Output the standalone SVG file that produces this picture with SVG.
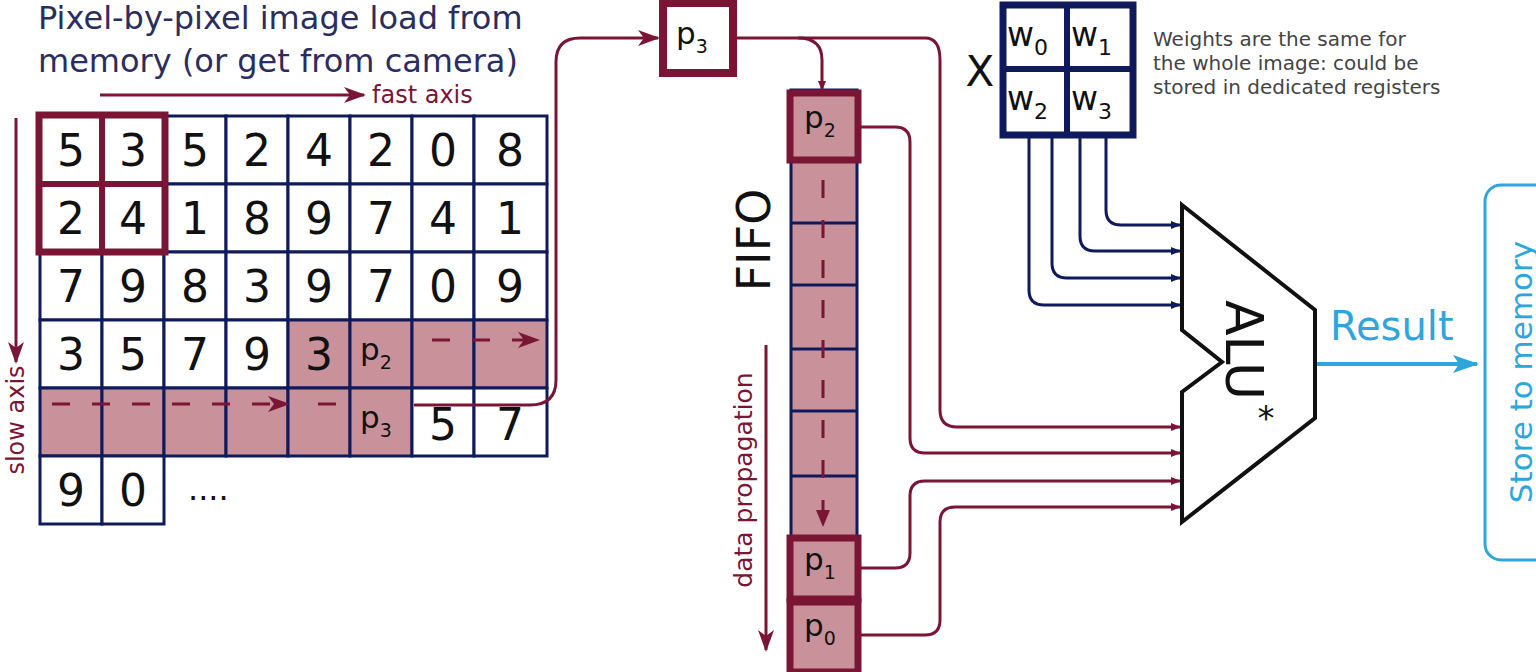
<svg xmlns="http://www.w3.org/2000/svg" width="1536" height="672" viewBox="0 0 1536 672">
<style>
.c{fill:#fff;stroke:#0f1a5c;stroke-width:3}
.pk{fill:#c99199;stroke:#0f1a5c;stroke-width:3}
.n{font-family:"DejaVu Sans",sans-serif;font-size:44px;fill:#111;text-anchor:middle}
.p{font-family:"DejaVu Sans",sans-serif;font-size:31px;fill:#111;text-anchor:middle}
.r{fill:none;stroke:#7a1535;stroke-width:3}
.b{fill:none;stroke:#0f1a5c;stroke-width:3}
.d{fill:none;stroke:#7a1535;stroke-width:3;stroke-dasharray:18 22}
.box{fill:#c99199;stroke:#7a1535;stroke-width:7}
</style>
<defs>
<marker id="ar" markerWidth="10" markerHeight="8" refX="9" refY="4" orient="auto" markerUnits="userSpaceOnUse"><path d="M0,0L10,4L0,8z" fill="#7a1535"/></marker>
<marker id="arb" markerWidth="10" markerHeight="8" refX="9" refY="4" orient="auto" markerUnits="userSpaceOnUse"><path d="M0,0L10,4L0,8z" fill="#0f1a5c"/></marker>
<marker id="arL" markerWidth="22" markerHeight="16" refX="20" refY="8" orient="auto" markerUnits="userSpaceOnUse"><path d="M0,0L22,8L0,16L6,8z" fill="#7a1535"/></marker>
<marker id="arC" markerWidth="26" markerHeight="18" refX="24" refY="9" orient="auto" markerUnits="userSpaceOnUse"><path d="M0,0L26,9L0,18L6,9z" fill="#2ea6dc"/></marker>
</defs>
<rect width="1536" height="672" fill="#fff"/>
<g id="title" font-family="DejaVu Sans,sans-serif" font-size="32" fill="#2a2d5e">
<text x="38" y="29">Pixel-by-pixel image load from</text>
<text x="38" y="72">memory (or get from camera)</text>
</g>
<g id="axes">
<line x1="100" y1="95" x2="364" y2="95" stroke="#7a1535" stroke-width="3" marker-end="url(#arL)"/>
<text x="372" y="103" font-family="DejaVu Sans,sans-serif" font-size="24" fill="#7a1535">fast axis</text>
<line x1="16" y1="118" x2="16" y2="362" stroke="#7a1535" stroke-width="3" marker-end="url(#arL)"/>
<text transform="translate(24,420) rotate(-90)" text-anchor="middle" font-family="DejaVu Sans,sans-serif" font-size="24" fill="#7a1535">slow axis</text>
</g>
<g id="grid">
<rect class="c" x="40" y="116" width="62" height="68"/><text class="n" x="71" y="166">5</text>
<rect class="c" x="102" y="116" width="62" height="68"/><text class="n" x="133" y="166">3</text>
<rect class="c" x="164" y="116" width="62" height="68"/><text class="n" x="195" y="166">5</text>
<rect class="c" x="226" y="116" width="62" height="68"/><text class="n" x="257" y="166">2</text>
<rect class="c" x="288" y="116" width="62" height="68"/><text class="n" x="319" y="166">4</text>
<rect class="c" x="350" y="116" width="62" height="68"/><text class="n" x="381" y="166">2</text>
<rect class="c" x="412" y="116" width="62" height="68"/><text class="n" x="443" y="166">0</text>
<rect class="c" x="474" y="116" width="73" height="68"/><text class="n" x="510" y="166">8</text>
<rect class="c" x="40" y="184" width="62" height="68"/><text class="n" x="71" y="234">2</text>
<rect class="c" x="102" y="184" width="62" height="68"/><text class="n" x="133" y="234">4</text>
<rect class="c" x="164" y="184" width="62" height="68"/><text class="n" x="195" y="234">1</text>
<rect class="c" x="226" y="184" width="62" height="68"/><text class="n" x="257" y="234">8</text>
<rect class="c" x="288" y="184" width="62" height="68"/><text class="n" x="319" y="234">9</text>
<rect class="c" x="350" y="184" width="62" height="68"/><text class="n" x="381" y="234">7</text>
<rect class="c" x="412" y="184" width="62" height="68"/><text class="n" x="443" y="234">4</text>
<rect class="c" x="474" y="184" width="73" height="68"/><text class="n" x="510" y="234">1</text>
<rect class="c" x="40" y="252" width="62" height="68"/><text class="n" x="71" y="302">7</text>
<rect class="c" x="102" y="252" width="62" height="68"/><text class="n" x="133" y="302">9</text>
<rect class="c" x="164" y="252" width="62" height="68"/><text class="n" x="195" y="302">8</text>
<rect class="c" x="226" y="252" width="62" height="68"/><text class="n" x="257" y="302">3</text>
<rect class="c" x="288" y="252" width="62" height="68"/><text class="n" x="319" y="302">9</text>
<rect class="c" x="350" y="252" width="62" height="68"/><text class="n" x="381" y="302">7</text>
<rect class="c" x="412" y="252" width="62" height="68"/><text class="n" x="443" y="302">0</text>
<rect class="c" x="474" y="252" width="73" height="68"/><text class="n" x="510" y="302">9</text>
<rect class="c" x="40" y="320" width="62" height="68"/><text class="n" x="71" y="370">3</text>
<rect class="c" x="102" y="320" width="62" height="68"/><text class="n" x="133" y="370">5</text>
<rect class="c" x="164" y="320" width="62" height="68"/><text class="n" x="195" y="370">7</text>
<rect class="c" x="226" y="320" width="62" height="68"/><text class="n" x="257" y="370">9</text>
<rect class="pk" x="288" y="320" width="62" height="68"/><text class="n" x="319" y="370">3</text>
<rect class="pk" x="350" y="320" width="62" height="68"/><text class="p" x="376" y="360">p<tspan font-size="19" dy="9">2</tspan></text>
<rect class="pk" x="412" y="320" width="62" height="68"/>
<rect class="pk" x="474" y="320" width="73" height="68"/>
<rect class="pk" x="40" y="388" width="62" height="68"/>
<rect class="pk" x="102" y="388" width="62" height="68"/>
<rect class="pk" x="164" y="388" width="62" height="68"/>
<rect class="pk" x="226" y="388" width="62" height="68"/>
<rect class="pk" x="288" y="388" width="62" height="68"/>
<rect class="pk" x="350" y="388" width="62" height="68"/><text class="p" x="376" y="428">p<tspan font-size="19" dy="9">3</tspan></text>
<rect class="c" x="412" y="388" width="62" height="68"/><text class="n" x="443" y="440">5</text>
<rect class="c" x="474" y="388" width="73" height="68"/><text class="n" x="510" y="440">7</text>
<rect class="c" x="40" y="456" width="62" height="68"/><text class="n" x="71" y="506">9</text>
<rect class="c" x="102" y="456" width="62" height="68"/><text class="n" x="133" y="506">0</text>
<text x="188" y="500" font-family="DejaVu Sans,sans-serif" font-size="32" fill="#111">....</text>
<rect x="39" y="115" width="126" height="137" fill="none" stroke="#7a1535" stroke-width="7"/>
<line x1="102" y1="115" x2="102" y2="252" stroke="#7a1535" stroke-width="6"/>
<line x1="39" y1="184" x2="165" y2="184" stroke="#7a1535" stroke-width="6"/>
</g>
<g id="p3box"><rect x="663" y="3" width="70" height="70" fill="#fff" stroke="#7a1535" stroke-width="8"/><text class="p" x="692" y="44">p<tspan font-size="19" dy="9">3</tspan></text></g>
<g id="fifo">
<rect x="791" y="90" width="66" height="580" fill="#c99199" stroke="#0f1a5c" stroke-width="3"/>
<line class="b" x1="791" y1="223" x2="857" y2="223"/><line class="b" x1="791" y1="285" x2="857" y2="285"/>
<line class="b" x1="791" y1="349" x2="857" y2="349"/><line class="b" x1="791" y1="411" x2="857" y2="411"/>
<line class="b" x1="791" y1="476" x2="857" y2="476"/>
<rect class="box" x="790" y="93" width="68" height="67"/><text class="p" x="820" y="128">p<tspan font-size="19" dy="9">2</tspan></text>
<rect class="box" x="790" y="538" width="68" height="61"/><text class="p" x="820" y="570">p<tspan font-size="19" dy="9">1</tspan></text>
<rect class="box" x="790" y="602" width="68" height="70"/><text class="p" x="820" y="636">p<tspan font-size="19" dy="9">0</tspan></text>
<text transform="translate(770,240) rotate(-90)" text-anchor="middle" font-family="DejaVu Sans,sans-serif" font-size="46" fill="#111">FIFO</text>
<text transform="translate(752,480) rotate(-90)" text-anchor="middle" font-family="DejaVu Sans,sans-serif" font-size="25" fill="#7a1535">data propagation</text>
</g>
<g id="weights" font-family="DejaVu Sans,sans-serif">
<rect x="1003" y="5" width="130" height="130" fill="#fff" stroke="#0f1a5c" stroke-width="7"/>
<line x1="1067" y1="5" x2="1067" y2="135" stroke="#0f1a5c" stroke-width="6"/>
<line x1="1003" y1="69" x2="1133" y2="69" stroke="#0f1a5c" stroke-width="6"/>
<text x="1007" y="46" font-size="33" fill="#111">w<tspan font-size="22" dy="9">0</tspan></text>
<text x="1071" y="46" font-size="33" fill="#111">w<tspan font-size="22" dy="9">1</tspan></text>
<text x="1007" y="110" font-size="33" fill="#111">w<tspan font-size="22" dy="9">2</tspan></text>
<text x="1071" y="110" font-size="33" fill="#111">w<tspan font-size="22" dy="9">3</tspan></text>
<text x="980" y="86" font-size="42" fill="#111" text-anchor="middle">X</text>
<g font-size="20" fill="#444"><text x="1153" y="46">Weights are the same for</text><text x="1153" y="70">the whole image: could be</text><text x="1153" y="94">stored in dedicated registers</text></g>
</g>
<g id="alu">
<path d="M1182,205L1315,310L1315,418L1182,522L1182,392L1222,362L1182,330Z" fill="#fff" stroke="#111" stroke-width="4"/>
<text transform="translate(1226,350) rotate(90)" text-anchor="middle" font-family="DejaVu Sans,sans-serif" font-size="52" fill="#111">ALU</text>
<text x="1266" y="430" font-family="DejaVu Sans,sans-serif" font-size="34" fill="#111" text-anchor="middle">*</text>
</g>
<g id="store">
<rect x="1485" y="185" width="80" height="375" rx="16" fill="#fff" stroke="#2ea6dc" stroke-width="3"/>
<text transform="translate(1532,372) rotate(-90)" text-anchor="middle" font-family="DejaVu Sans,sans-serif" font-size="31" fill="#2ea6dc">Store to memory</text>
</g>
<g id="connectors">
<line class="d" x1="432" y1="340" x2="538" y2="340" marker-end="url(#arL)"/>
<line class="d" x1="52" y1="404" x2="288" y2="404" marker-end="url(#arL)"/>
<line class="r" x1="318" y1="404" x2="336" y2="404"/>
<path class="r" d="M414,405H530Q556,405 556,380V62Q556,38 580,38H658" marker-end="url(#arL)"/>
<line class="d" x1="823" y1="180" x2="823" y2="520" stroke-dasharray="18 26"/>
<path d="M816,510L823,527L830,510z" fill="#7a1535"/>
<line x1="766" y1="345" x2="766" y2="650" stroke="#7a1535" stroke-width="3" marker-end="url(#arL)"/>
<path class="r" d="M733,38H925Q940,38 940,60V410Q940,427 957,427H1180" marker-end="url(#ar)"/>
<path class="r" d="M798,38Q822,38 822,60V90" marker-end="url(#ar)"/>
<path class="r" d="M860,127H895Q910,127 910,142V438Q910,453 925,453H1180" marker-end="url(#ar)"/>
<path class="r" d="M860,568H895Q910,568 910,553V496Q910,481 925,481H1180" marker-end="url(#ar)"/>
<path class="r" d="M860,635H925Q940,635 940,620V522Q940,507 955,507H1180" marker-end="url(#ar)"/>
<path class="b" d="M1029,137V290Q1029,305 1044,305H1180" marker-end="url(#arb)"/>
<path class="b" d="M1052,137V263Q1052,278 1067,278H1180" marker-end="url(#arb)"/>
<path class="b" d="M1080,137V236Q1080,251 1095,251H1180" marker-end="url(#arb)"/>
<path class="b" d="M1106,137V210Q1106,225 1121,225H1180" marker-end="url(#arb)"/>
<line x1="1317" y1="364" x2="1477" y2="364" stroke="#2ea6dc" stroke-width="4" marker-end="url(#arC)"/>
<text x="1330" y="340" font-family="DejaVu Sans,sans-serif" font-size="40" fill="#2ea6dc">Result</text>
</g>
</svg>
